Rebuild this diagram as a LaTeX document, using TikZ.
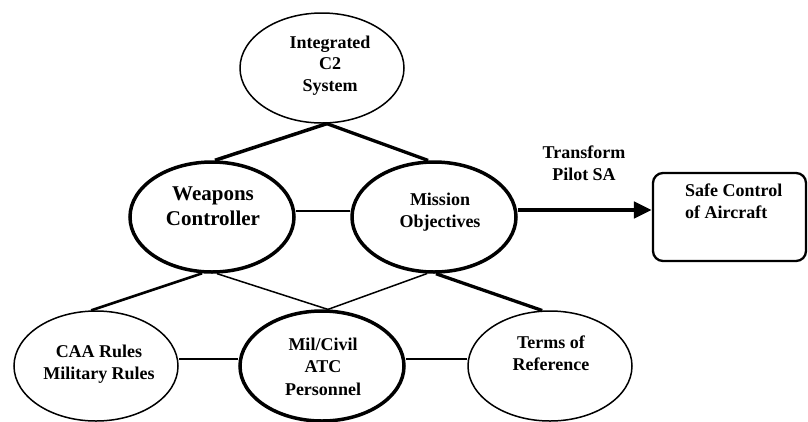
\documentclass[tikz,border=0pt]{standalone}
\usepackage{fontspec}
\setmainfont{Liberation Serif}
\usetikzlibrary{shapes.geometric,arrows.meta}
\begin{document}
\begin{tikzpicture}[x=1pt,y=-1pt,
  bubble/.style={draw, ellipse, minimum width=164pt, minimum height=110pt, inner sep=0pt, line width=1.5pt},
  keybubble/.style={bubble, line width=3.5pt},
  lbl/.style={font=\bfseries\fontsize{18}{21.5}\selectfont, align=center, inner sep=0pt, anchor=base},
  biglbl/.style={lbl, font=\bfseries\fontsize{21}{25}\selectfont},
  outcome/.style={draw, rounded corners=10pt, line width=2.3pt, minimum width=153pt, minimum height=88pt, inner sep=0pt},
  thinlink/.style={line width=1.5pt},
  midlink/.style={line width=2.2pt},
  heavylink/.style={line width=3.3pt},
  flow/.style={line width=4.5pt, -{Triangle[length=18pt,width=16pt]}}
]
\useasboundingbox (0,0) rectangle (808,421);
\clip (0,0) rectangle (808,421);

% ellipses
\node[bubble] (c2) at (322,68) {};
\node[keybubble] (wc) at (212,217) {};
\node[keybubble] (mo) at (434,217) {};
\node[bubble] (caa) at (96,366) {};
\node[keybubble] (mil) at (322,366) {};
\node[bubble] (tor) at (550,366) {};
\node[outcome] (sca) at (729.5,217) {};

% labels (anchored on the baseline of their last line)
\node[lbl] (c2t) at (330,91) {Integrated\\C2\\System};
\node[biglbl] (wct) at (213,225) {Weapons\\Controller};
\node[lbl] (mot) at (440,227) {Mission\\Objectives};
\node[lbl] (caat) at (99,379) {CAA Rules\\Military Rules};
\node[lbl, font=\bfseries\fontsize{18}{22.5}\selectfont] (milt) at (323,395) {Mil/Civil\\ATC\\Personnel};
\node[lbl] (tort) at (551,370) {Terms of\\Reference};
\node[lbl, anchor=base west, align=left] (scat) at (685,218) {Safe Control\\of Aircraft};
\node[lbl] (tps) at (584,180) {Transform\\Pilot SA};

% links
\draw[heavylink, line width=3.5pt] (c2.275) -- (wc.87);
\draw[heavylink] (c2.275) -- (mo.96);
\draw[thinlink] ([yshift=6pt]wc.east) -- ([yshift=6pt]mo.west);
\draw[flow] ([yshift=7pt]mo.east) -- ([yshift=7pt]sca.west);
\draw[midlink, line width=2.6pt] (wc.260) -- (caa.95);
\draw[thinlink] (wc.275) -- (mil.84);
\draw[thinlink] (mo.263) -- (mil.84);
\draw[heavylink] (mo.272) -- (tor.98);
\draw[midlink] ([yshift=7pt]caa.east) -- ([yshift=7pt]mil.west);
\draw[midlink] ([yshift=7pt]mil.east) -- ([yshift=7pt]tor.west);
\end{tikzpicture}
\end{document}
